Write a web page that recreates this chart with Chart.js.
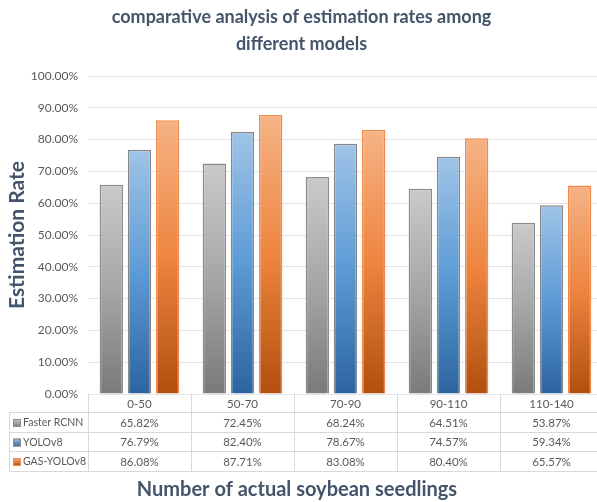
<!DOCTYPE html>
<html>
<head>
<meta charset="utf-8">
<script src="https://cdn.jsdelivr.net/npm/chart.js@4"></script>
<style>
  html, body { margin: 0; padding: 0; background: #fff; overflow: hidden; }
  #wrap { width: 603px; height: 502px; }
</style>
</head>
<body>
<div id="wrap"><canvas id="rateChart"></canvas></div>
<script>
const categories = ['0-50', '50-70', '70-90', '90-110', '110-140'];
const seriesNames = ['Faster RCNN', 'YOLOv8', 'GAS-YOLOv8'];
const fasterRcnn = [65.82, 72.45, 68.24, 64.51, 53.87];
const yolov8 = [76.79, 82.40, 78.67, 74.57, 59.34];
const gasYolov8 = [86.08, 87.71, 83.08, 80.40, 65.57];
const yTicks = [0, 10, 20, 30, 40, 50, 60, 70, 80, 90, 100];

const FONT = 'Lato, "Open Sans", sans-serif';
const grays = ['#cacaca', '#a6a6a6', '#7a7a7a'];
const blues = ['#9fc4e7', '#5d9bd6', '#2c64a0'];
const oranges = ['#f5b385', '#ee8540', '#b24f0e'];

// per bar vertical gradient, light at top and dark at the bottom
function barFill(stops) {
  return function (ctx) {
    const chart = ctx.chart;
    const area = chart.chartArea;
    if (!area || !ctx.parsed) return stops[1];
    const top = chart.scales.y.getPixelForValue(ctx.parsed.y);
    const g = chart.ctx.createLinearGradient(0, top, 0, area.bottom);
    g.addColorStop(0, stops[0]);
    g.addColorStop(0.5, stops[1]);
    g.addColorStop(1, stops[2]);
    return g;
  };
}

// data table under the plot + x axis title
const tablePlugin = {
  id: 'dataTable',
  afterDraw(chart) {
    const c = chart.ctx;
    const a = chart.chartArea;
    const n = categories.length;
    const colW = (a.right - a.left) / n;
    const rows = [a.bottom, a.bottom + 18, a.bottom + 38, a.bottom + 57, a.bottom + 77];
    const tableLeft = 9;
    c.save();
    c.strokeStyle = '#d9d9d9';
    c.lineWidth = 1;
    c.beginPath();
    for (let i = 0; i <= n; i++) {
      const x = Math.round(a.left + i * colW) + 0.5;
      c.moveTo(x, rows[0]);
      c.lineTo(x, rows[4]);
    }
    c.moveTo(tableLeft + 0.5, rows[1]);
    c.lineTo(tableLeft + 0.5, rows[4]);
    for (let r = 1; r < rows.length; r++) {
      c.moveTo(tableLeft, Math.round(rows[r]) + 0.5);
      c.lineTo(a.right, Math.round(rows[r]) + 0.5);
    }
    c.stroke();

    c.fillStyle = '#595959';
    c.font = '11.5px ' + FONT;
    c.textAlign = 'center';
    c.textBaseline = 'middle';
    categories.forEach((cat, i) => {
      c.fillText(cat, chart.scales.x.getPixelForValue(i), (rows[0] + rows[1]) / 2 + 1);
    });
    const data = [fasterRcnn, yolov8, gasYolov8];
    const keys = [grays, blues, oranges];
    const keyBorders = ['#8c8c8c', '#8a8a8a', '#ef8a4a'];
    data.forEach((vals, r) => {
      const yMid = (rows[r + 1] + rows[r + 2]) / 2 + 1;
      c.textAlign = 'center';
      c.fillStyle = '#595959';
      c.font = '11.5px ' + FONT;
      vals.forEach((v, i) => {
        c.fillText(v.toFixed(2) + '%', chart.scales.x.getPixelForValue(i), yMid);
      });
      const kg = c.createLinearGradient(0, yMid - 4, 0, yMid + 4);
      kg.addColorStop(0, keys[r][0]);
      kg.addColorStop(1, keys[r][2]);
      c.fillStyle = kg;
      c.fillRect(13, yMid - 4, 8, 8);
      c.strokeStyle = keyBorders[r];
      c.strokeRect(13.5, yMid - 3.5, 7, 7);
      c.fillStyle = '#595959';
      c.textAlign = 'left';
      c.font = '10.5px ' + FONT;
      c.fillText(seriesNames[r], 23, yMid);
    });

    c.fillStyle = '#44546a';
    c.font = 'bold 20px ' + FONT;
    c.textAlign = 'center';
    c.fillText('Number of actual soybean seedlings', 297, 490);
    c.restore();
  }
};

new Chart(document.getElementById('rateChart'), {
  type: 'bar',
  data: {
    labels: categories,
    datasets: [
      {
        label: seriesNames[0],
        data: fasterRcnn,
        backgroundColor: barFill(grays),
        borderColor: '#8c8c8c',
        borderWidth: 1.5
      },
      {
        label: seriesNames[1],
        data: yolov8,
        backgroundColor: barFill(blues),
        borderColor: '#878787',
        borderWidth: 1.5
      },
      {
        label: seriesNames[2],
        data: gasYolov8,
        backgroundColor: barFill(oranges),
        borderColor: '#f08a4b',
        borderWidth: 1.5
      }
    ]
  },
  options: {
    responsive: true,
    maintainAspectRatio: false,
    animation: false,
    categoryPercentage: 0.82,
    barPercentage: 0.83,
    layout: { padding: { top: 0, right: 0, bottom: 108, left: 0 } },
    plugins: {
      legend: { display: false },
      tooltip: { enabled: false },
      title: {
        display: true,
        text: ['comparative analysis of estimation rates among', 'different models'],
        color: '#44546a',
        font: { family: FONT, size: 18, weight: 'bold', lineHeight: 1.5 },
        padding: { top: 4, bottom: 18 }
      }
    },
    scales: {
      x: { display: false },
      y: {
        min: 0,
        max: 100,
        afterBuildTicks(scale) { scale.ticks = yTicks.map(v => ({ value: v })); },
        afterFit(scale) { scale.width = 88; },
        border: { display: false },
        grid: { color: '#e3e3e8', drawTicks: false },
        ticks: {
          color: '#595959',
          padding: 10,
          font: { family: FONT, size: 12 },
          callback: v => v.toFixed(2) + '%'
        },
        title: {
          display: true,
          text: 'Estimation Rate',
          color: '#44546a',
          font: { family: FONT, size: 21, weight: 'bold' },
          padding: { top: 5, bottom: 0 }
        }
      }
    }
  },
  plugins: [tablePlugin]
});
</script>
</body>
</html>
